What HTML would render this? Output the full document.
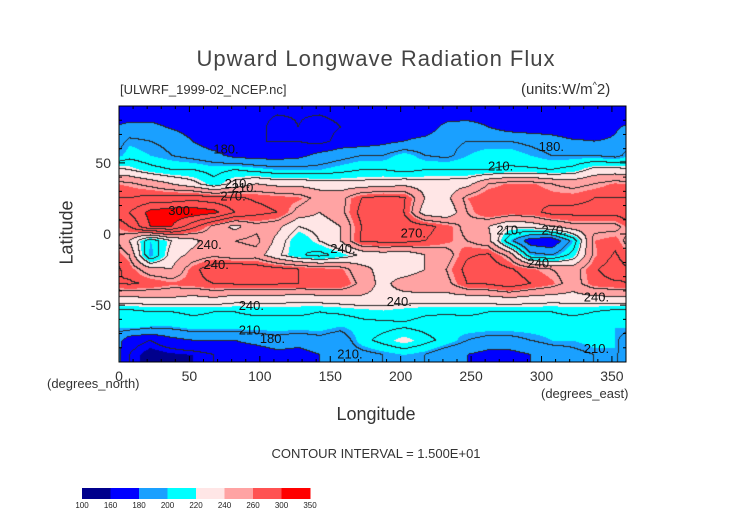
<!DOCTYPE html>
<html><head><meta charset="utf-8"><style>
body{margin:0;background:#fff;width:752px;height:532px;position:relative;overflow:hidden;font-family:"Liberation Sans",sans-serif;color:#333}
.t{position:absolute;white-space:nowrap}
</style></head><body>
<div class="t" style="left:0;width:752px;text-align:center;top:46px;font-size:22px;letter-spacing:1px;color:#444">Upward Longwave Radiation Flux</div>
<div class="t" style="left:120px;top:82px;font-size:13px">[ULWRF_1999-02_NCEP.nc]</div>
<div class="t" style="left:521px;top:80px;font-size:15px">(units:W/m<sup style="font-size:9px">^</sup>2)</div>
<div class="t" style="left:22px;top:222px;font-size:18px;transform:rotate(-90deg);transform-origin:center;width:90px;text-align:center">Latitude</div>
<div class="t" style="left:47px;top:376px;font-size:13px">(degrees_north)</div>
<div class="t" style="left:541px;top:386px;font-size:13px">(degrees_east)</div>
<div class="t" style="left:0;width:752px;text-align:center;top:404px;font-size:18px">Longitude</div>
<div class="t" style="left:0;width:752px;text-align:center;top:446px;font-size:13px">CONTOUR INTERVAL = 1.500E+01</div>
<canvas id="map" width="507" height="256" style="position:absolute;left:119px;top:106px"></canvas>
<svg id="ov" width="752" height="532" style="position:absolute;left:0;top:0"></svg>
<script>
const lonCenters=[7.5,22.5,37.5,52.5,67.5,82.5,97.5,112.5,127.5,142.5,157.5,172.5,187.5,202.5,217.5,232.5,247.5,262.5,277.5,292.5,307.5,322.5,337.5,352.5];
const latCenters=[85,75,65,55,45,35,25,15,5,-5,-15,-25,-35,-45,-55,-65,-75,-85];
const flux=[
[170,170,170,170,168,168,168,166,166,166,168,170,170,170,170,170,170,170,170,170,170,165,170,170],
[185,185,178,172,165,165,170,160,165,160,165,170,170,170,170,185,188,180,172,170,170,165,170,178],
[198,195,192,180,170,170,165,165,165,160,170,170,175,180,185,192,195,195,195,192,188,182,180,182],
[205,200,195,190,185,175,172,172,175,185,190,195,195,205,195,192,200,205,205,200,195,195,195,190],
[225,215,210,210,205,210,205,200,200,200,205,210,210,205,210,210,210,210,212,212,210,215,230,230],
[258,250,240,230,215,230,240,235,235,232,230,230,232,235,232,232,235,255,262,262,255,250,255,262],
[270,275,275,280,275,272,268,265,262,250,250,270,275,272,240,235,260,270,270,270,265,265,270,270],
[285,305,310,310,305,285,275,270,250,240,250,275,275,270,230,225,255,270,265,265,275,275,275,275],
[270,300,300,275,250,235,250,245,225,230,240,270,280,280,275,265,250,240,225,230,240,250,250,250],
[240,200,225,235,250,255,260,235,210,225,240,272,275,275,270,262,255,245,200,170,165,200,260,265],
[255,195,232,245,252,245,248,228,212,205,215,228,232,228,240,248,268,272,250,200,195,215,258,272],
[265,245,240,265,280,285,280,275,270,265,262,245,235,230,240,255,275,280,272,262,255,248,268,278],
[272,268,262,265,270,272,272,272,270,270,270,250,235,248,252,250,270,272,280,270,262,248,265,268],
[238,240,240,236,240,234,234,234,232,234,236,238,235,234,234,234,234,236,240,236,234,234,236,238],
[205,210,210,212,210,210,212,212,212,210,212,215,218,215,212,212,212,210,210,210,210,212,210,205],
[205,200,200,205,205,205,205,205,205,205,200,205,205,208,205,202,205,205,205,205,205,205,205,200],
[170,165,175,180,180,180,185,190,185,190,185,205,215,225,215,205,195,190,190,195,200,200,205,200],
[165,155,158,160,165,170,170,175,175,180,185,190,195,200,195,185,180,175,175,180,185,190,195,200]];
const levels=[100,160,180,200,220,240,260,300,350];
const levelColors=["#00008c","#0000ff","#1aa0ff","#00ffff","#ffe6e6","#ffa3a3","#ff5252","#ff0000"];
const xTicks=[0,50,100,150,200,250,300,350];
const yTicks=[50,0,-50];
const X0=119,X1=626,Y0=106,Y1=362;
const xs=lon=>X0+(lon/360)*(X1-X0);
const ys=lat=>Y0+((90-lat)/180)*(Y1-Y0);
function hex(c){return [parseInt(c.substr(1,2),16),parseInt(c.substr(3,2),16),parseInt(c.substr(5,2),16)];}
function sample(lon,lat){
  let fi=(90-lat)/10-0.5; fi=Math.max(0,Math.min(latCenters.length-1,fi));
  let i0=Math.floor(fi),i1=Math.min(i0+1,latCenters.length-1),ti=fi-i0;
  let fj=(lon-7.5)/15; let j0=Math.floor(fj),tj=fj-j0;
  const n=lonCenters.length; let a=((j0%n)+n)%n,b=(a+1)%n;
  const r0=flux[i0][a]*(1-tj)+flux[i0][b]*tj, r1=flux[i1][a]*(1-tj)+flux[i1][b]*tj;
  return r0*(1-ti)+r1*ti;
}
function bin(v){for(let k=levels.length-2;k>=0;k--) if(v>=levels[k]) return k; return 0;}
const cv=document.getElementById('map'),ctx=cv.getContext('2d');
const W=cv.width,H=cv.height,img=ctx.createImageData(W,H);
const vals=new Float32Array(W*H);
for(let y=0;y<H;y++)for(let x=0;x<W;x++){vals[y*W+x]=sample((x+0.5)/W*360,90-(y+0.5)/H*180);}
const cols=levelColors.map(hex);
for(let y=0;y<H;y++)for(let x=0;x<W;x++){
  const v=vals[y*W+x];let c=cols[bin(v)];
  const q=Math.floor(v/15);
  if((x<W-1&&Math.floor(vals[y*W+x+1]/15)!==q)||(y<H-1&&Math.floor(vals[(y+1)*W+x]/15)!==q)) c=[40,40,40];
  const p=(y*W+x)*4;img.data[p]=c[0];img.data[p+1]=c[1];img.data[p+2]=c[2];img.data[p+3]=255;}
ctx.putImageData(img,0,0);
const NS='http://www.w3.org/2000/svg',svg=document.getElementById('ov');
function mk(t,a){const e=document.createElementNS(NS,t);for(const k in a)e.setAttribute(k,a[k]);svg.appendChild(e);return e;}
const fr=mk('rect',{x:X0,y:Y0,width:X1-X0,height:Y1-Y0,fill:'none',stroke:'#000','stroke-width':1});


for(let l=0;l<=360;l+=10){const L=l%50===0?6:3;
  mk('line',{x1:xs(l),x2:xs(l),y1:Y1,y2:Y1-L,stroke:'#000'});mk('line',{x1:xs(l),x2:xs(l),y1:Y0,y2:Y0+L,stroke:'#000'});}
for(let l=-90;l<=90;l+=10){const L=l%50===0?6:3;
  mk('line',{x1:X0,x2:X0+L,y1:ys(l),y2:ys(l),stroke:'#000'});mk('line',{x1:X1,x2:X1-L,y1:ys(l),y2:ys(l),stroke:'#000'});}
xTicks.forEach(v=>{const t=mk('text',{x:xs(v),y:Y1+19,'text-anchor':'middle','font-size':14,fill:'#333','font-family':'Liberation Sans'});t.textContent=v;
  
  });
yTicks.forEach(v=>{const t=mk('text',{x:X0-8,y:ys(v)+5,'text-anchor':'end','font-size':14,fill:'#333','font-family':'Liberation Sans'});t.textContent=v;
  
  });
const labs=[[67,60,'180.'],[298,62,'180.'],[75,36,'210.'],[80,33,'210.'],[262,48,'210.'],[35,17,'300.'],[72,27,'270.'],[200,1,'270.'],[268,3,'210.'],[300,3,'270.'],[55,-7,'240.'],[150,-10,'240.'],[60,-21,'240.'],[290,-20,'240.'],[85,-50,'240.'],[330,-44,'240.'],[190,-47,'240.'],[85,-67,'210.'],[100,-73,'180.'],[155,-84,'210.'],[330,-80,'210.']];
labs.forEach(a=>{const t=mk('text',{x:xs(a[0]),y:ys(a[1])+5,'font-size':13,fill:'#111','font-family':'Liberation Sans'});t.textContent=a[2];
  
  });
const CB0=82,CB1=310,CBY=488,CBH=11,cw=(CB1-CB0)/levelColors.length;
levelColors.forEach((c,i)=>{const r=mk('rect',{x:CB0+i*cw,y:CBY,width:cw+0.5,height:CBH,fill:c});
  
  });
levels.forEach((v,i)=>{const t=mk('text',{x:CB0+i*cw,y:CBY+CBH+9,'text-anchor':'middle','font-size':8,fill:'#222','font-family':'Liberation Sans'});t.textContent=v;
  
  });
</script>
</body></html>
